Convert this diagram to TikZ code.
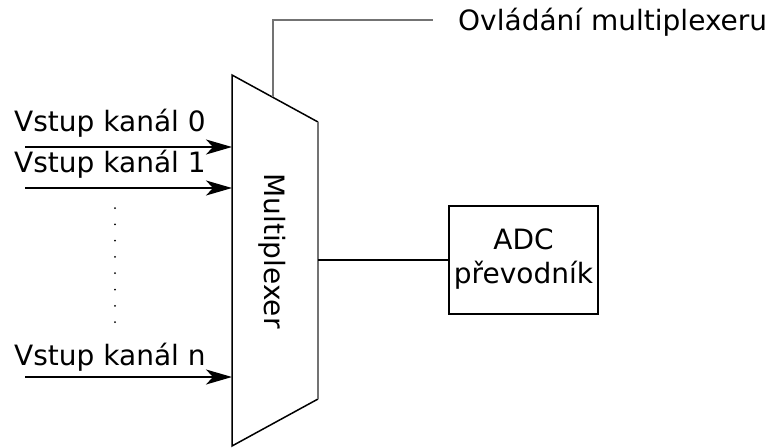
\documentclass[tikz,border=0pt]{standalone}
\usepackage{fontspec}
\setmainfont{DejaVu Sans}
\usetikzlibrary{arrows.meta}
\begin{document}
\begin{tikzpicture}[x=1pt,y=-1pt,
  lbl/.style={inner sep=0pt,font=\fontsize{28pt}{34pt}\selectfont},
  inarrow/.style={line width=1.6pt,-{Stealth[length=26pt,width=15pt,inset=7pt]}},
  wire/.style={line width=1.5pt},
  graywire/.style={line width=1.5pt,draw=black!55}]
\useasboundingbox (0,0) rectangle (773,447);
% multiplexer trapezoid
\coordinate (tl) at (232,75);
\coordinate (tr) at (318,122);
\coordinate (br) at (318,399);
\coordinate (bl) at (232,446);
\draw[wire] (tr) -- (tl) -- (bl) -- (br);
\draw[graywire] (tr) -- (br);
\node[lbl,rotate=-90] (mux) at (272,251) {Multiplexer};
% control
\coordinate (ctl) at (273,97.4);
\coordinate (ctlend) at (433,20);
\node[lbl,anchor=base west] (ctltxt) at (458,30) {Ovládání multiplexeru};
\draw[graywire] (ctl) |- (ctlend);
% inputs
\node[lbl,anchor=base west] (in0) at (14,131) {Vstup kanál 0};
\node[lbl,anchor=base west] (in1) at (14,172.5) {Vstup kanál 1};
\node[lbl,anchor=base west] (inn) at (14,365) {Vstup kanál n};
\coordinate (s0) at (25,147);
\coordinate (s1) at (25,188);
\coordinate (sn) at (25,377);
\coordinate (e0) at (232,147);
\coordinate (e1) at (232,188);
\coordinate (en) at (232,377);
\draw[inarrow] (s0) -- (e0);
\draw[inarrow] (s1) -- (e1);
\draw[inarrow] (sn) -- (en);
\foreach \i in {0,...,7}
  \fill (115,{208+16.3*\i}) circle (1pt);
% ADC
\node[draw,line width=1.5pt,minimum width=149pt,minimum height=108pt,inner sep=0pt] (adc) at (523.5,260) {};
\node[lbl,anchor=base] (adct1) at (523.5,249) {ADC};
\node[lbl,anchor=base] (adct2) at (523.5,283) {převodník};
\coordinate (muxout) at (318,260);
\draw[wire] (muxout) -- (adc.west);
\end{tikzpicture}
\end{document}
